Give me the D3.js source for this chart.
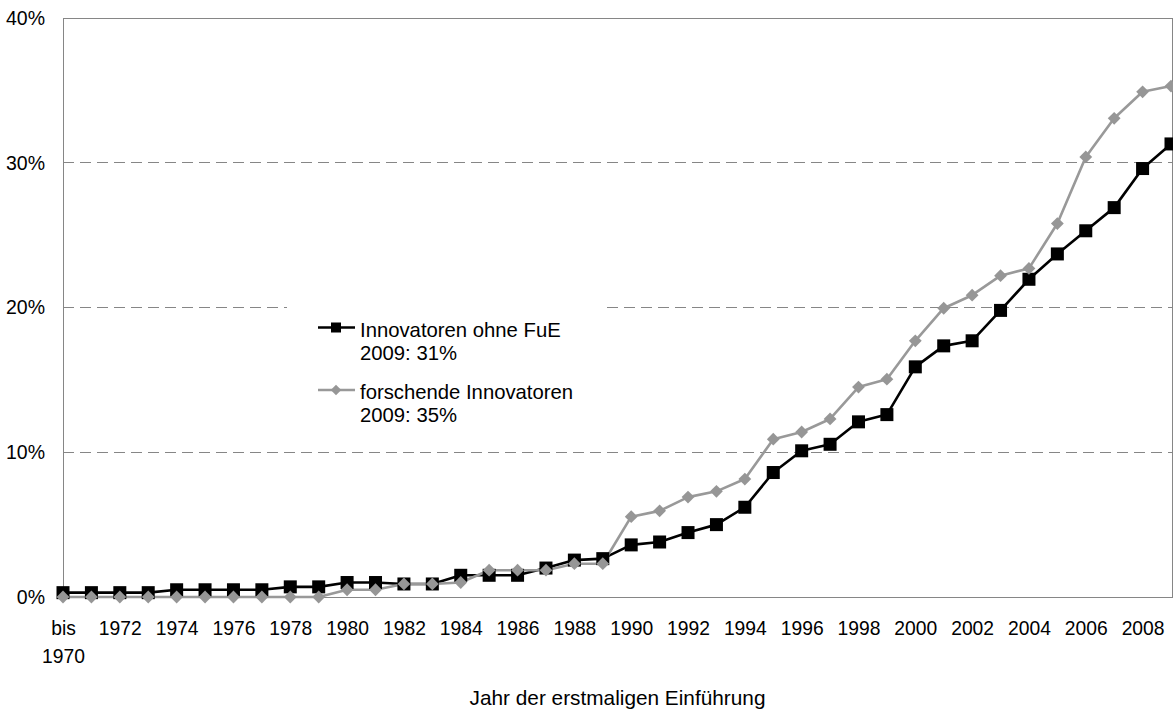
<!DOCTYPE html>
<html><head><meta charset="utf-8">
<script src="https://cdn.jsdelivr.net/npm/d3@7/dist/d3.min.js"></script>
<style>
body{margin:0;background:#fff;}
svg{display:block;font-family:"Liberation Sans",Arial,sans-serif;}
</style></head>
<body><svg id="c" width="1173" height="711"></svg>
<script>
const years = d3.range(1970, 2010);
const tickYears = d3.range(1970, 2010, 2);
const yTicks = [0, 10, 20, 30, 40];
const seriesNames = ["Innovatoren ohne FuE", "forschende Innovatoren"];
const legendSub = ["2009: 31%", "2009: 35%"];
const ohneFuE = [0.3,0.3,0.3,0.3,0.5,0.5,0.5,0.5,0.7,0.7,1.0,1.0,0.9,0.9,1.5,1.5,1.5,2.0,2.55,2.65,3.6,3.8,4.45,5.0,6.2,8.6,10.1,10.55,12.1,12.6,15.9,17.35,17.7,19.8,21.95,23.7,25.3,26.9,29.6,31.3];
const forschende = [0,0,0,0,0,0,0,0,0,0,0.5,0.5,0.9,0.9,1.0,1.85,1.85,1.85,2.3,2.3,5.55,5.95,6.9,7.3,8.15,10.9,11.4,12.3,14.5,15.05,17.7,19.95,20.85,22.2,22.7,25.8,30.4,33.07,34.9,35.3];

const svg = d3.select("#c");
const L = 63, R = 1172, T = 18, B = 597;
const x = d3.scaleLinear().domain([1970, 2009]).range([L, 1171]);
const y = d3.scaleLinear().domain([0, 40]).range([B, T]);
const frameColor = "#868686";

// gridlines
svg.append("g").selectAll("line").data([10, 20, 30]).join("line")
  .attr("x1", L).attr("x2", R).attr("y1", d => y(d)).attr("y2", d => y(d))
  .attr("stroke", frameColor).attr("stroke-width", 1).attr("stroke-dasharray", "11,6")
  .attr("shape-rendering", "crispEdges");

// frame
svg.append("rect").attr("x", L + 0.5).attr("y", T + 0.5).attr("width", R - L).attr("height", B - T)
  .attr("fill", "none").attr("stroke", frameColor).attr("stroke-width", 1);

// y axis
const ya = svg.append("g").attr("transform", `translate(${L},0)`)
  .call(d3.axisLeft(y).tickValues(yTicks).tickSize(0).tickPadding(18).tickFormat(d => d + "%"));
ya.select(".domain").remove();
ya.selectAll("text").attr("font-size", 19.5).attr("fill", "#000").attr("font-family", "Liberation Sans, Arial, sans-serif");

// x axis
const xa = svg.append("g").attr("transform", `translate(0,${B})`)
  .call(d3.axisBottom(x).tickValues(tickYears).tickSize(0).tickFormat(d => String(d)));
xa.select(".domain").remove();
xa.selectAll("text").attr("font-size", 19.3).attr("fill", "#000").attr("font-family", "Liberation Sans, Arial, sans-serif")
  .attr("y", 38).attr("dy", 0);
xa.selectAll("text").filter(d => d === 1970).each(function(d) {
  const t = d3.select(this); t.text(null);
  t.append("tspan").attr("x", 0).attr("y", 38).text("bis");
  t.append("tspan").attr("x", 0).attr("y", 66).text(String(d));
});

// axis title
svg.append("text").attr("x", (L + R) / 2).attr("y", 705).attr("text-anchor", "middle")
  .attr("font-size", 20.8).text("Jahr der erstmaligen Einführung");

// legend background
svg.append("rect").attr("x", 287).attr("y", 298).attr("width", 316).attr("height", 138).attr("fill", "#fff");

// lines
const line = d3.line().x((d, i) => x(years[i])).y(d => y(d));
svg.append("path").datum(ohneFuE).attr("d", line).attr("fill", "none").attr("stroke", "#000").attr("stroke-width", 2.6).attr("stroke-linejoin", "round");
svg.append("path").datum(forschende).attr("d", line).attr("fill", "none").attr("stroke", "#999").attr("stroke-width", 2.6).attr("stroke-linejoin", "round");

// markers
svg.append("g").selectAll("rect").data(ohneFuE).join("rect")
  .attr("x", (d, i) => x(years[i]) - 6.5).attr("y", d => y(d) - 6.5)
  .attr("width", 13).attr("height", 13).attr("fill", "#000");
svg.append("g").selectAll("path").data(forschende).join("path")
  .attr("d", d3.symbol().type(d3.symbolSquare).size(82)())
  .attr("transform", (d, i) => `translate(${x(years[i])},${y(d)}) rotate(45)`)
  .attr("fill", "#969696");

// legend
const lg = svg.append("g");
lg.append("line").attr("x1", 318).attr("x2", 355).attr("y1", 327.5).attr("y2", 327.5).attr("stroke", "#000").attr("stroke-width", 2.6);
lg.append("rect").attr("x", 331).attr("y", 322.5).attr("width", 10).attr("height", 10).attr("fill", "#000");
lg.append("line").attr("x1", 318).attr("x2", 355).attr("y1", 390).attr("y2", 390).attr("stroke", "#999").attr("stroke-width", 2.6);
lg.append("path").attr("d", d3.symbol().type(d3.symbolSquare).size(55)()).attr("transform", "translate(336,390) rotate(45)").attr("fill", "#969696");
const ltext = [[seriesNames[0], 336.5], [legendSub[0], 360], [seriesNames[1], 399], [legendSub[1], 422]];
lg.selectAll("text").data(ltext).join("text").attr("x", 360).attr("y", d => d[1]).attr("font-size", 20.3).text(d => d[0]);
</script></body></html>
